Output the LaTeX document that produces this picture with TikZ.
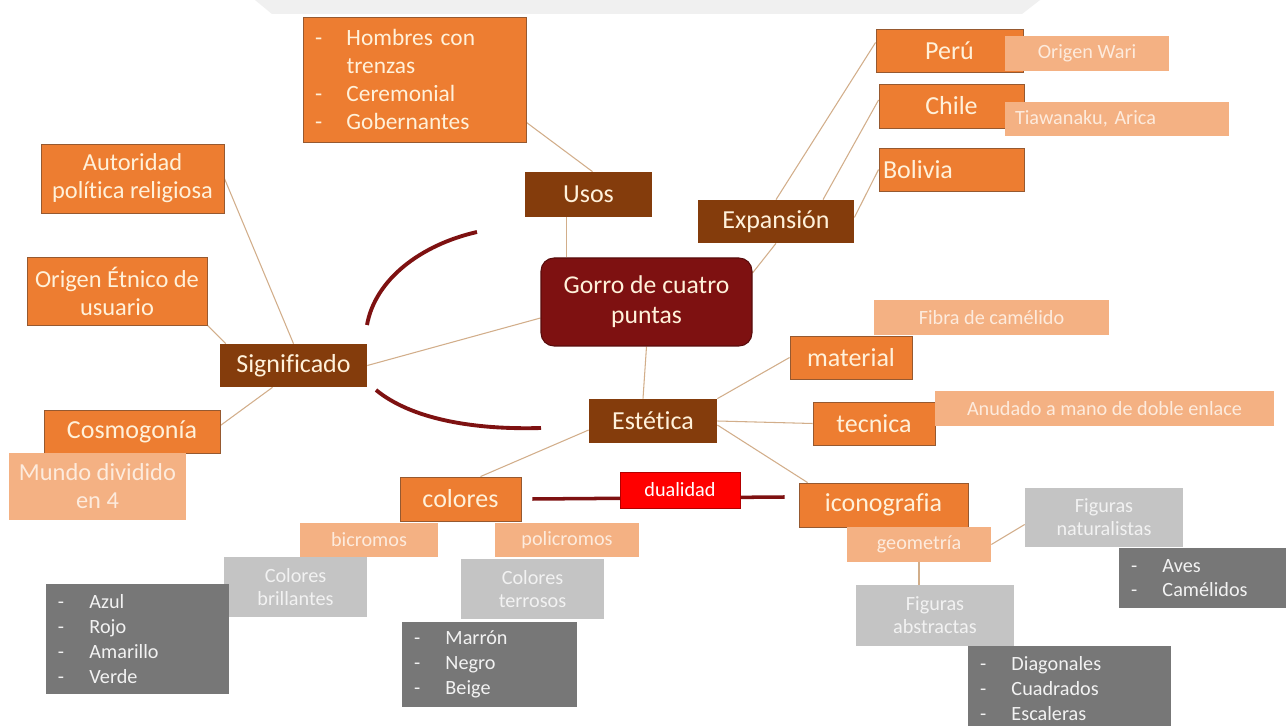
\documentclass[tikz,border=0pt]{standalone}
\usepackage{fontspec}
\setmainfont{Carlito}[Ligatures=NoCommon]
\usetikzlibrary{calc,backgrounds}
\frenchspacing

\definecolor{mapbrown}{HTML}{843C0C}
\definecolor{maporange}{HTML}{ED7D31}
\definecolor{mappeach}{HTML}{F4B183}
\definecolor{mapwine}{HTML}{7E1111}
\definecolor{mapgrey}{HTML}{C4C4C4}
\definecolor{mapslate}{HTML}{777777}
\definecolor{mapred}{HTML}{FF0000}
\definecolor{maplink}{HTML}{D2AE8A}
\definecolor{mapcream}{HTML}{FFF1DA}
\definecolor{mappale}{HTML}{FDEBDD}

\newcommand{\fbig}{\fontsize{14.8}{17}\selectfont}
\newcommand{\fmid}{\fontsize{13.9}{15.9}\selectfont}
\newcommand{\fsmall}{\fontsize{11.5}{13.1}\selectfont}
\newcommand{\flist}{\fontsize{11.5}{14.1}\selectfont}
\newcommand{\itm}[1]{\makebox[6.3mm][l]{-}#1}

\begin{document}
\begin{tikzpicture}[x=0.2mm, y=-0.2mm,
    box/.style={rectangle, inner sep=0pt, align=center},
    wh/.style 2 args={minimum width=#1*0.2mm, minimum height=#2*0.2mm},
    brownbox/.style={box, fill=mapbrown, text=mapcream, font=\fbig},
    orangebox/.style={box, fill=maporange, draw=mapbrown!85, line width=0.5pt, text=mapcream, font=\fbig},
    peachbox/.style={box, fill=mappeach, text=mappale, font=\fsmall},
    greybox/.style={box, fill=mapgrey, text=white!95!black, font=\fsmall},
    slatebox/.style={box, fill=mapslate, text=white!95!black, font=\flist, align=left, inner xsep=2.4mm},
    gorrobox/.style={box, fill=mapwine, draw=mapwine!70!black, line width=0.6pt, rounded corners=2.6mm, text=mapcream, font=\fontsize{14.6}{17}\selectfont},
    dualbox/.style={box, fill=mapred, draw=red!70!black, line width=0.5pt, text=white, font=\fsmall},
    link/.style={draw=maplink, line width=0.6pt},
    swoosh/.style={draw=mapwine, line width=2.2pt}]
\useasboundingbox (0,0) rectangle (1286,726);

% Central node
\node[gorrobox, wh={211}{88}] (gorro) at (646.5,302) {Gorro de cuatro\\puntas};

% Usos
\node[orangebox, wh={223}{125}, align=left, text width=39.8mm, inner xsep=2.4mm, font=\fontsize{13.3}{15.9}\selectfont] (useslist) at (414.5,79.5)
    {\itm{Hombres con}\\\hspace*{6.3mm}trenzas\\\itm{Ceremonial}\\\itm{Gobernantes}};
\node[brownbox, wh={127}{45}] (usos) at (588.5,194.5) {Usos};

% Expansion
\node[orangebox, wh={147}{43}] (peru) at (949.5,50.5) {Perú};
\node[peachbox, wh={164}{35}] (wari) at (1087,53.5) {Origen Wari};
\node[orangebox, wh={145}{44}] (chile) at (951.5,106) {Chile};
\node[peachbox, wh={224}{34}, align=left, text width=40.8mm, inner xsep=2mm] (tiwanaku) at (1117,119) {Tiawanaku, Arica};
\node[orangebox, wh={145}{43}, align=left, text width=27.4mm, inner xsep=0.8mm] (bolivia) at (951.5,169.5) {Bolivia};
\node[brownbox, wh={156}{43}] (expansion) at (776,221.5) {Expansión};

% Significado
\node[orangebox, wh={183}{69}, font=\fmid] (autoridad) at (132.5,178.5) {Autoridad\\política religiosa};
\node[orangebox, wh={180}{68}, font=\fmid] (etnico) at (117,291) {Origen Étnico de\\usuario};
\node[brownbox, wh={147}{43}] (signif) at (293.5,365.5) {Significado};
\node[orangebox, wh={176}{43}] (cosmo) at (132,431.5) {Cosmogonía};
\node[peachbox, wh={177}{67}, font=\fmid] (mundo) at (97.5,486.5) {Mundo dividido\\en 4};

% Estetica
\node[brownbox, wh={128}{44}] (estetica) at (653,421) {Estética};
\node[peachbox, wh={235}{35}] (fibra) at (991.5,317.5) {Fibra de camélido};
\node[orangebox, wh={122}{43}] (material) at (851,357.5) {material};
\node[orangebox, wh={122}{43}] (tecnica) at (874,423.5) {tecnica};
\node[peachbox, wh={339}{35}] (anudado) at (1104.5,408.5) {Anudado a mano de doble enlace};

% Colores e iconografia
\node[dualbox, wh={120}{36}] (dualidad) at (680,490) {dualidad};
\node[orangebox, wh={121}{44}] (colores) at (460.5,499) {colores};
\node[orangebox, wh={169}{44}] (icono) at (883.5,505) {iconografia};
\node[peachbox, wh={144}{35}] (geometria) at (919,544.5) {geometría};
\node[greybox, wh={158}{59}] (natural) at (1104,517.5) {Figuras\\naturalistas};
\node[slatebox, wh={167}{60}, text width=28.6mm] (aves) at (1202.5,578) {\itm{Aves}\\\itm{Camélidos}};
\node[greybox, wh={158}{61}] (abstractas) at (935,615.5) {Figuras\\abstractas};
\node[slatebox, wh={203}{85}, text width=35.8mm] (diagonales) at (1069.5,688.5) {\itm{Diagonales}\\\itm{Cuadrados}\\\itm{Escaleras}};
\node[peachbox, wh={138}{34}] (bicromos) at (369,540) {bicromos};
\node[peachbox, wh={144}{34}] (policromos) at (567,540) {policromos};
\node[greybox, wh={143}{60}] (brillantes) at (295.5,587) {Colores\\brillantes};
\node[greybox, wh={143}{60}] (terrosos) at (532.5,589) {Colores\\terrosos};
\node[slatebox, wh={183}{110}, text width=31.8mm] (azul) at (137.5,639) {\itm{Azul}\\\itm{Rojo}\\\itm{Amarillo}\\\itm{Verde}};
\node[slatebox, wh={175}{85}, text width=30.2mm] (marron) at (489.5,664.5) {\itm{Marrón}\\\itm{Negro}\\\itm{Beige}};

\begin{scope}[on background layer]
    \fill[white] (0,0) rectangle (1286,726);
    \fill[black!6] (255,0) -- (1040,0) -- (1022,14) -- (272,14) -- cycle;
    % Links
    \draw[link] ($(useslist.south east)+(0,-20)$) -- ($(usos.north)+(4,0)$);
    \draw[link] ($(usos.south)+(-22,0)$) -- ($(gorro.north)+(-80,0)$);
    \draw[link] ($(gorro.east)+(0,-29)$) -- (expansion.south);
    \draw[link] (expansion.north) -- ($(peru.west)+(0,-8)$);
    \draw[link] ($(expansion.north)+(47,0)$) -- ($(chile.west)+(0,-6)$);
    \draw[link] ($(expansion.east)+(0,-4)$) -- (bolivia.west);
    \draw[link] (autoridad.east) -- (signif.north);
    \draw[link] (etnico.south east) -- ($(signif.north west)+(6,0)$);
    \draw[link] ($(cosmo.east)+(0,-6)$) -- ($(signif.south)+(-21,0)$);
    \draw[link] (signif.east) -- ($(gorro.west)+(0,16)$);
    \draw[link] (gorro.south) -- ($(estetica.north)+(-10,0)$);
    \draw[link] (estetica.north east) -- (material.west);
    \draw[link] (estetica.east) -- (tecnica.west);
    \draw[link] ($(estetica.east)+(0,4)$) -- ($(icono.north west)+(9,0)$);
    \draw[link] ($(estetica.west)+(0,9)$) -- ($(colores.north)+(20,0)$);
    \draw[link] (geometria.east) -- ($(natural.west)+(0,7)$);
    \draw[link] (geometria.south) -- ($(abstractas.north)+(-16,0)$);
    % Duality bar
    \draw[swoosh, line width=2pt] ($(colores.east)+(11,0)$) -- ($(icono.west)+(-14,-8)$);
    % Arcs
    \coordinate (arcupA) at (367,325);
    \coordinate (arcupB) at (477,232);
    \coordinate (arclowA) at (376,390);
    \coordinate (arclowB) at (541,428);
    \draw[swoosh] (arcupA) .. controls (375,280) and (420,245) .. (arcupB);
    \draw[swoosh] (arclowA) .. controls (410,418) and (470,430) .. (arclowB);
\end{scope}
\end{tikzpicture}
\end{document}
